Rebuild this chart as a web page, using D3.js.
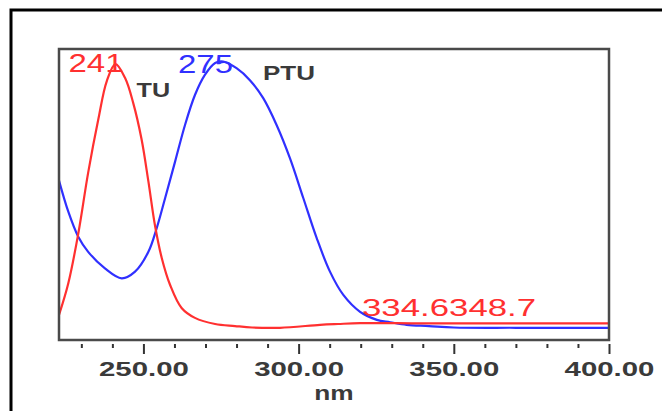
<!DOCTYPE html>
<html>
<head>
<meta charset="utf-8">
<script src="https://cdn.jsdelivr.net/npm/d3@7"></script>
<style>
body { margin: 0; background: #fff; }
svg { display: block; }
text { font-family: "Liberation Sans", Arial, sans-serif; }
</style>
</head>
<body>
<div id="chart"></div>
<script>

/********** data **********/
// TU (red)
var tuNm  = [222.8, 225.8, 229.0, 232.2, 235.5, 238.2, 241.0, 244.1, 246.7, 249.4, 251.6, 253.7, 255.9, 258.6, 262.3, 266.6, 273.1, 279.5, 285.0, 294.0, 306.9, 312.7, 319.8, 340.0, 370.0, 400.0];
var tuAbs = [0.086, 0.195, 0.365, 0.575, 0.760, 0.890, 0.948, 0.900, 0.815, 0.690, 0.545, 0.395, 0.282, 0.189, 0.110, 0.076, 0.055, 0.048, 0.043, 0.042, 0.052, 0.055, 0.058, 0.057, 0.057, 0.057];

// PTU (blue)
var ptuNm  = [222.8, 225.8, 229.0, 232.2, 237.6, 243.0, 247.3, 251.6, 254.3, 257.0, 260.2, 263.4, 266.6, 269.8, 273.1, 275.7, 280.0, 284.3, 288.6, 292.9, 297.2, 301.5, 305.8, 310.1, 314.4, 319.8, 325.2, 329.5, 334.8, 342.0, 350.0, 370.0, 400.0];
var ptuAbs = [0.548, 0.441, 0.355, 0.303, 0.246, 0.212, 0.235, 0.303, 0.385, 0.488, 0.613, 0.739, 0.842, 0.911, 0.952, 0.957, 0.934, 0.893, 0.831, 0.739, 0.625, 0.488, 0.351, 0.235, 0.155, 0.097, 0.069, 0.061, 0.052, 0.048, 0.043, 0.042, 0.042];

var majorTicks = [250, 300, 350, 400];
var minorTicks = [230, 240, 260, 270, 280, 290, 310, 320, 330, 340, 360, 370, 380, 390];
var tickLabels = ["250.00", "300.00", "350.00", "400.00"];

// peak annotations
var peakLabels = ["241", "275"];
var peakNm     = [241, 275];
var seriesNames = ["TU", "PTU"];


/********** setup **********/
var width = 662, height = 411;
var plot = {left: 59, right: 609, top: 49, bottom: 340};
var stretch = 1.4; // the text in the picture is drawn wide

var svg = d3.select("#chart")
	.append("svg")
	.attr("width", width)
	.attr("height", height);

// outer black border (runs off the right and bottom)
svg.append("rect")
	.attr("x", 11).attr("y", 10)
	.attr("width", 720).attr("height", 500)
	.attr("fill", "none")
	.attr("stroke", "#000")
	.attr("stroke-width", 3);

var x = d3.scaleLinear().domain([222.8, 400]).range([plot.left, plot.right]);
var y = d3.scaleLinear().domain([0, 1]).range([plot.bottom, plot.top]);

svg.append("clipPath").attr("id", "clip")
	.append("rect")
	.attr("x", plot.left).attr("y", plot.top)
	.attr("width", plot.right - plot.left)
	.attr("height", plot.bottom - plot.top);

/********** curves **********/
var line = d3.line()
	.x(function (d) { return x(d[0]); })
	.y(function (d) { return y(d[1]); })
	.curve(d3.curveCatmullRom.alpha(0.5));

var tuData = d3.zip(tuNm, tuAbs);
var ptuData = d3.zip(ptuNm, ptuAbs);

svg.append("path")
	.datum(ptuData)
	.attr("clip-path", "url(#clip)")
	.attr("fill", "none")
	.attr("stroke", "#3030ff")
	.attr("stroke-width", 2.2)
	.attr("d", line);

svg.append("path")
	.datum(tuData)
	.attr("clip-path", "url(#clip)")
	.attr("fill", "none")
	.attr("stroke", "#ff3030")
	.attr("stroke-width", 2.2)
	.attr("d", line);

/********** frame **********/
svg.append("rect")
	.attr("x", plot.left).attr("y", plot.top)
	.attr("width", plot.right - plot.left)
	.attr("height", plot.bottom - plot.top)
	.attr("fill", "none")
	.attr("stroke", "#4a4a4a")
	.attr("stroke-width", 2.5);

/********** x axis **********/
var minorAxis = svg.append("g")
	.attr("transform", "translate(0," + (plot.bottom + 4) + ")")
	.call(d3.axisBottom(x).tickValues(minorTicks).tickSize(4).tickFormat(""));

var majorAxis = svg.append("g")
	.attr("transform", "translate(0," + (plot.bottom + 4) + ")")
	.call(d3.axisBottom(x).tickValues(majorTicks).tickSize(10)
		.tickFormat(function (d, i) { return tickLabels[i]; }));

svg.selectAll(".domain").remove();
svg.selectAll(".tick line").attr("stroke", "#333").attr("stroke-width", 2);

majorAxis.selectAll(".tick text")
	.attr("y", 32).attr("dy", 0)
	.attr("fill", "#3a3a3a")
	.attr("font-size", 21)
	.attr("font-weight", "bold")
	.attr("transform", "scale(" + stretch + ",1)");

svg.append("g")
	.attr("transform", "translate(" + ((plot.left + plot.right) / 2) + ",400)")
	.append("text")
	.attr("text-anchor", "middle")
	.attr("fill", "#3a3a3a")
	.attr("font-size", 21)
	.attr("font-weight", "bold")
	.attr("transform", "scale(1.25,1)")
	.text("nm");

/********** annotations **********/
function label(px, py, txt, color, size, anchor, sx, weight) {
	svg.append("g")
		.attr("transform", "translate(" + px + "," + py + ")")
		.append("text")
		.attr("text-anchor", anchor)
		.attr("fill", color)
		.attr("font-size", size)
		.attr("font-weight", weight || "normal")
		.attr("transform", "scale(" + sx + ",1)")
		.text(txt);
}

label(x(peakNm[0]) + 8, 72, peakLabels[0], "#ff3030", 25, "end", 1.32);
label(x(peakNm[1]) + 12, 73, peakLabels[1], "#3030ff", 25, "end", 1.32);
label(x(peakNm[0]) + 21, 97, seriesNames[0], "#3a3a3a", 21, "start", 1.2, "bold");
label(x(peakNm[1]) + 42, 80, seriesNames[1], "#3a3a3a", 20, "start", 1.3, "bold");
label(x(334.6) - 44, 316, "334.6348.7", "#ff3030", 24, "start", 1.45);

</script>
</body>
</html>
